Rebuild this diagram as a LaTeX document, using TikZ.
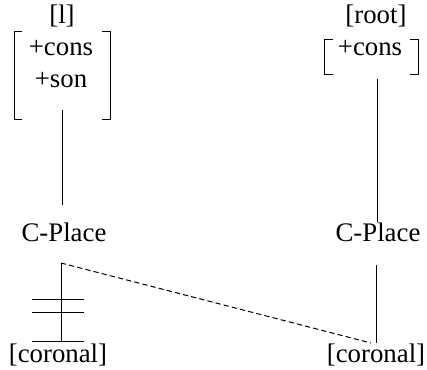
\documentclass[tikz,border=0pt]{standalone}
\usepackage{fontspec}
\setmainfont{Liberation Serif}
\begin{document}
\begin{tikzpicture}[x=0.5pt,y=-0.5pt,
  lbl/.style={inner sep=0pt,font=\fontsize{13.4}{16}\selectfont},
  ln/.style={line width=0.5pt},
  dsh/.style={line width=0.5pt,dash pattern=on 2.6pt off 1.6pt}]
\useasboundingbox (0,0) rectangle (427,369);
% left column
\node[lbl] (l) at (62,16) {[l]};
\node[lbl] (lcons) at (61,48) {+cons};
\node[lbl] (lson) at (61,80) {+son};
\draw[ln] (22,32) -- (14,32) -- (14,119) -- (22,119);
\draw[ln] (102,32) -- (110,32) -- (110,119) -- (102,119);
\node[lbl] (lcp) at (64,232) {C-Place};
\node[lbl] (lcor) at (58,355) {[coronal]};
\coordinate (la) at (62,110);
\coordinate (lb) at (62,205);
\coordinate (lc) at (61,263);
\coordinate (ld) at (61,341);
\draw[ln] (la) -- (lb);
\draw[ln] (lc) -- (ld);
\draw[ln] (32,299) -- (84,299);
\draw[ln] (32,312) -- (84,312);
\draw[ln] (32,341) -- (84,341);
% right column
\node[lbl] (r) at (376,16) {[root]};
\node[lbl] (rcons) at (370,48) {+cons};
\draw[ln] (333,40) -- (324,40) -- (324,75) -- (333,75);
\draw[ln] (410,40) -- (418,40) -- (418,75) -- (410,75);
\node[lbl] (rcp) at (378,232) {C-Place};
\node[lbl] (rcor) at (376,355) {[coronal]};
\coordinate (ra) at (377,79);
\coordinate (rb) at (377,222);
\coordinate (rc) at (376,265);
\coordinate (rd) at (376,343);
\coordinate (re) at (371,343);
\draw[ln] (ra) -- (rb);
\draw[ln] (rc) -- (rd);
% association line
\draw[dsh] (lc) -- (re);
\end{tikzpicture}
\end{document}
